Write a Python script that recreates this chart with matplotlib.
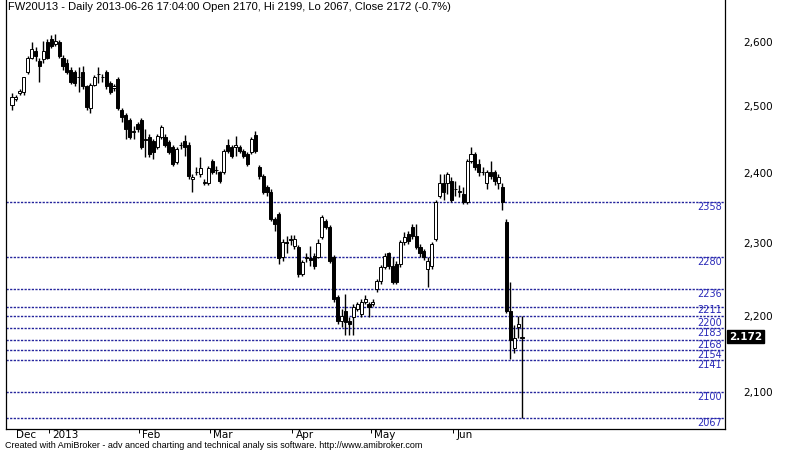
import matplotlib
matplotlib.use('Agg')
import matplotlib.pyplot as plt
import numpy as np
from matplotlib.ticker import NullLocator, FixedLocator


# daily OHLC, FW20U13, mid Dec 2012 .. 2013-06-26
opens = [2502, 2511, 2520, 2522, 2552, 2575, 2585, 2569, 2572, 2599,
         2604, 2596, 2599, 2575, 2567, 2556, 2552, 2544, 2553, 2530,
         2497, 2533, 2549, 2544, 2552, 2536, 2528, 2541, 2494, 2487,
         2479, 2460, 2472, 2479, 2450, 2453, 2447, 2439, 2453, 2453,
         2445, 2438, 2416, 2441, 2447, 2442, 2391, 2402, 2398, 2386,
         2386, 2417, 2405, 2401, 2401, 2442, 2438, 2439, 2439, 2432,
         2428, 2431, 2456, 2408, 2395, 2380, 2373, 2333, 2340, 2280,
         2301, 2305, 2296, 2294, 2257, 2280, 2278, 2282, 2280, 2308,
         2330, 2322, 2280, 2225, 2193, 2206, 2193, 2198, 2209, 2202,
         2218, 2215, 2215, 2236, 2247, 2266, 2285, 2268, 2271, 2271,
         2301, 2312, 2322, 2310, 2294, 2289, 2264, 2268, 2305, 2366,
         2386, 2386, 2388, 2376, 2373, 2369, 2358, 2417, 2428, 2413,
         2402, 2386, 2402, 2401, 2386, 2380, 2329, 2206, 2157, 2185,
         2170]
highs = [2520, 2517, 2526, 2545, 2577, 2599, 2591, 2575, 2601, 2604,
         2610, 2612, 2602, 2579, 2572, 2560, 2555, 2560, 2561, 2533,
         2536, 2547, 2560, 2550, 2556, 2539, 2534, 2544, 2497, 2490,
         2482, 2469, 2476, 2482, 2465, 2457, 2450, 2457, 2471, 2457,
         2448, 2441, 2438, 2445, 2456, 2445, 2398, 2408, 2423, 2391,
         2410, 2420, 2410, 2403, 2435, 2450, 2441, 2454, 2442, 2435,
         2431, 2453, 2462, 2411, 2398, 2383, 2376, 2336, 2343, 2305,
         2310, 2311, 2311, 2297, 2276, 2285, 2296, 2285, 2305, 2339,
         2333, 2325, 2283, 2228, 2209, 2229, 2198, 2215, 2219, 2222,
         2228, 2218, 2222, 2250, 2269, 2285, 2287, 2280, 2275, 2304,
         2315, 2317, 2326, 2326, 2298, 2291, 2280, 2301, 2361, 2398,
         2398, 2401, 2394, 2388, 2383, 2379, 2420, 2439, 2431, 2420,
         2408, 2405, 2417, 2405, 2398, 2386, 2333, 2246, 2187, 2200,
         2199]
lows = [2494, 2508, 2517, 2517, 2549, 2572, 2569, 2537, 2567, 2572,
        2590, 2593, 2574, 2556, 2549, 2534, 2530, 2522, 2526, 2494,
        2490, 2530, 2536, 2537, 2526, 2518, 2523, 2494, 2475, 2450,
        2450, 2450, 2460, 2435, 2423, 2423, 2420, 2435, 2450, 2438,
        2428, 2410, 2413, 2436, 2425, 2391, 2373, 2397, 2394, 2382,
        2383, 2399, 2399, 2385, 2398, 2429, 2422, 2425, 2429, 2422,
        2410, 2428, 2429, 2391, 2369, 2366, 2330, 2317, 2271, 2275,
        2285, 2297, 2291, 2253, 2254, 2273, 2268, 2264, 2278, 2305,
        2319, 2272, 2219, 2189, 2185, 2174, 2174, 2174, 2206, 2198,
        2215, 2198, 2213, 2232, 2243, 2264, 2264, 2243, 2243, 2266,
        2297, 2298, 2305, 2291, 2280, 2276, 2239, 2264, 2303, 2363,
        2361, 2369, 2358, 2366, 2365, 2355, 2355, 2414, 2405, 2395,
        2397, 2376, 2391, 2383, 2376, 2347, 2204, 2143, 2150, 2170,
        2067]
closes = [2514, 2514, 2523, 2544, 2574, 2588, 2577, 2561, 2585, 2575,
          2593, 2601, 2577, 2561, 2553, 2537, 2536, 2545, 2530, 2499,
          2533, 2544, 2550, 2545, 2530, 2522, 2530, 2497, 2484, 2465,
          2453, 2462, 2465, 2439, 2448, 2428, 2431, 2454, 2468, 2442,
          2431, 2413, 2435, 2442, 2439, 2395, 2394, 2401, 2407, 2387,
          2407, 2402, 2404, 2388, 2432, 2432, 2425, 2441, 2432, 2425,
          2413, 2450, 2432, 2395, 2372, 2373, 2333, 2326, 2278, 2301,
          2300, 2304, 2305, 2257, 2273, 2279, 2276, 2268, 2300, 2336,
          2322, 2275, 2222, 2193, 2200, 2192, 2189, 2212, 2215, 2219,
          2222, 2212, 2219, 2247, 2266, 2282, 2268, 2246, 2246, 2301,
          2308, 2303, 2310, 2294, 2285, 2280, 2275, 2298, 2358, 2386,
          2372, 2398, 2361, 2377, 2374, 2358, 2417, 2428, 2408, 2401,
          2401, 2401, 2395, 2388, 2394, 2358, 2206, 2167, 2170, 2189,
          2172]

# month labels and the bar index where each month starts
month_labels = ['2013', 'Feb', 'Mar', 'Apr', 'May', 'Jun']
month_start = [10, 33, 51, 72, 92, 113]

# support / resistance levels
levels = [2358, 2280, 2236, 2211, 2200, 2183, 2168, 2154, 2141, 2100, 2067]

price_ticks = [2100, 2200, 2300, 2400, 2500, 2600]

title = ('FW20U13 - Daily 2013-06-26 17:04:00 Open 2170, Hi 2199, '
         'Lo 2067, Close 2172 (-0.7%)')
footer = ('Created with AmiBroker - adv anced charting and technical '
          'analy sis software. http://www.amibroker.com')


def main():
    o = np.array(opens)
    h = np.array(highs)
    l = np.array(lows)
    c = np.array(closes)
    x = np.arange(len(c))

    fig = plt.figure(figsize=(8, 4.5), dpi=100)
    ax = fig.add_axes([6 / 800, 21 / 450, 719 / 800, 429 / 450])
    ax.set_yscale('log')

    # support / resistance lines, label just under each line
    # (two levels that sit very close get their labels pushed apart)
    for k, lv in enumerate(levels):
        dy = -5
        if k + 1 < len(levels) and lv - levels[k + 1] < 12:
            dy = -3
        elif k > 0 and levels[k - 1] - lv < 12:
            dy = -7
        ax.axhline(lv, color='#24249c', lw=1.0, ls=(0, (1.6, 1.0)), zorder=1)
        ax.annotate(str(lv), xy=(1, lv), xycoords=('axes fraction', 'data'),
                    xytext=(-3, dy), textcoords='offset pixels',
                    ha='right', va='center', fontsize=7, color='#2a2ab8')

    # candles
    ax.vlines(x, l, h, color='black', lw=1.0, zorder=2)
    up = c >= o
    body_lo = np.minimum(o, c)
    body_h = np.abs(c - o)
    ax.bar(x[up], body_h[up], bottom=body_lo[up], width=0.78,
           color='white', edgecolor='black', linewidth=0.7, zorder=3)
    ax.bar(x[~up], body_h[~up], bottom=body_lo[~up], width=0.78,
           color='black', edgecolor='black', linewidth=0.7, zorder=3)

    ax.set_xlim(-1.53, 181.75)
    ax.set_ylim(2053, 2667)

    # right price axis
    ax.yaxis.tick_right()
    ax.yaxis.set_major_locator(FixedLocator(price_ticks))
    ax.yaxis.set_minor_locator(NullLocator())
    ax.set_yticklabels([f'{p:,}' for p in price_ticks])
    ax.tick_params(axis='y', length=0, pad=13, labelsize=7.5)

    # month axis
    ax.set_xticks([m - 0.5 for m in month_start])
    ax.tick_params(axis='x', direction='out', length=3, width=0.7,
                   labelbottom=False)
    ax.annotate('Dec', xy=(0, 0), xycoords='axes fraction',
                xytext=(10, -6), textcoords='offset pixels',
                ha='left', va='center', fontsize=7.5)
    for lab, m in zip(month_labels, month_start):
        ax.annotate(lab, xy=(m - 0.5, 0), xycoords=('data', 'axes fraction'),
                    xytext=(3, -6), textcoords='offset pixels',
                    ha='left', va='center', fontsize=7.5)

    ax.spines['top'].set_visible(False)
    for s in ['left', 'right', 'bottom']:
        ax.spines[s].set_linewidth(0.9)

    # last price marker
    ax.annotate(f'{closes[-1] / 1000:.3f}', xy=(1, closes[-1]),
                xycoords=('axes fraction', 'data'),
                xytext=(4, 0), textcoords='offset pixels',
                ha='left', va='center', fontsize=7.5, color='white',
                fontweight='bold',
                bbox=dict(boxstyle='square,pad=0.15', fc='black', ec='black'))

    fig.text(0.01, 1 - 7 / 450, title, ha='left', va='center',
             fontsize=8, family='Liberation Sans')
    fig.text(0.006, 5 / 450, footer, ha='left', va='center',
             fontsize=6.5, family='Liberation Sans')

    fig.savefig('out.png', dpi=100, facecolor='white')


if __name__ == "__main__":
    main()
